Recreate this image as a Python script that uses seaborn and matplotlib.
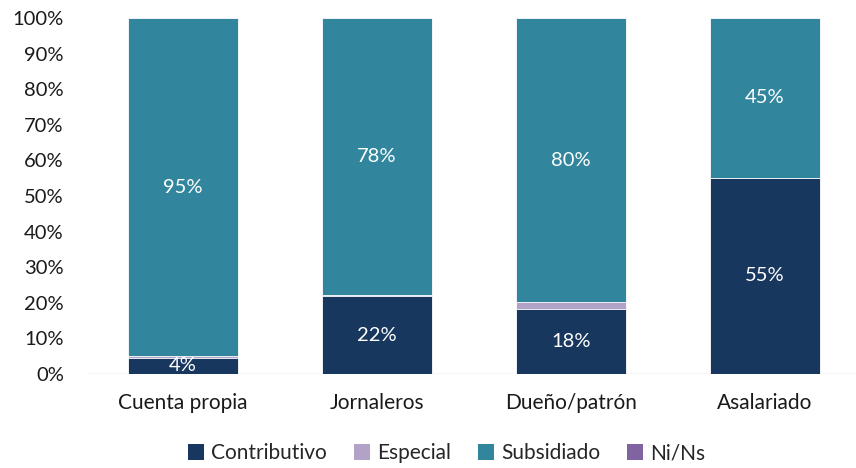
import matplotlib
matplotlib.use("Agg")
import matplotlib.pyplot as plt
import numpy as np
import pandas as pd
import seaborn as sns
from matplotlib.patches import Patch

categories = ["Cuenta propia", "Jornaleros", "Dueño/patrón", "Asalariado"]
series_names = ["Contributivo", "Especial", "Subsidiado", "Ni/Ns"]
contributivo = [4.6, 21.9, 18.2, 55.1]
especial = [0.4, 0.2, 1.9, 0.0]
subsidiado = [95.0, 77.9, 79.9, 44.9]
ni_ns = [0.0, 0.0, 0.0, 0.0]
label_contributivo = ["4%", "22%", "18%", "55%"]
label_subsidiado = ["95%", "78%", "80%", "45%"]

colors = {
    "Contributivo": "#17375e",
    "Especial": "#b3a2c7",
    "Subsidiado": "#31859c",
    "Ni/Ns": "#8064a2",
}

sns.set_theme(style="white")
plt.rcParams["font.family"] = ["Lato", "DejaVu Sans"]

df = pd.DataFrame(
    {
        "categoria": categories,
        "Contributivo": contributivo,
        "Especial": especial,
        "Subsidiado": subsidiado,
        "Ni/Ns": ni_ns,
    }
)
cum = df[series_names].cumsum(axis=1)
cum["categoria"] = df["categoria"]

fig = plt.figure(figsize=(8.56, 4.68), dpi=100)
ax = fig.add_axes([86 / 856, 1 - 374 / 468, 1 - 86 / 856, (374 - 18) / 468])

# draw from the top layer down so lower segments overlay the cumulative bars
for name in reversed(series_names):
    sns.barplot(
        data=cum,
        x="categoria",
        y=name,
        color=colors[name],
        saturation=1,
        width=0.57,
        edgecolor="white",
        linewidth=0.6,
        ax=ax,
    )

for i in range(len(categories)):
    ax.text(i, contributivo[i] / 2, label_contributivo[i], ha="center", va="center",
            color="white", fontsize=14.5)
    base = contributivo[i] + especial[i]
    ax.text(i, base + subsidiado[i] / 2, label_subsidiado[i], ha="center", va="center",
            color="white", fontsize=14.5)

ax.axhline(0, color="#d9d9d9", linewidth=1, zorder=0)
ax.set_ylim(0, 100)
ax.set_xlim(-0.5, 3.47)
ax.set_yticks(np.arange(0, 101, 10))
ax.set_yticklabels([f"{v}%" for v in range(0, 101, 10)])
ax.set_xlabel("")
ax.set_ylabel("")
ax.tick_params(axis="y", length=0, pad=16, labelsize=14.5, labelcolor="#1a1a1a")
ax.tick_params(axis="x", length=0, pad=14, labelsize=15, labelcolor="#1a1a1a")
for spine in ax.spines.values():
    spine.set_visible(False)

handles = [Patch(facecolor=colors[n], edgecolor="none", label=n) for n in series_names]
fig.legend(
    handles=handles,
    loc="lower center",
    bbox_to_anchor=(0.522, -0.03),
    ncol=4,
    frameon=False,
    fontsize=15,
    handlelength=0.75,
    handleheight=0.75,
    handletextpad=0.35,
    columnspacing=1.3,
)

fig.savefig("out.png", dpi=100)
